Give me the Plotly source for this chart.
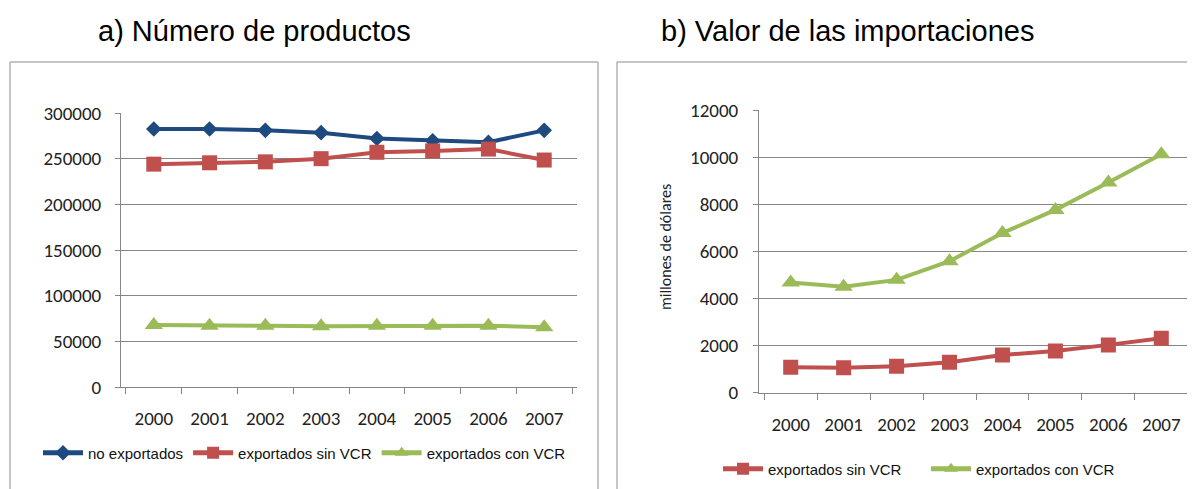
import plotly.graph_objects as go

years = ["2000", "2001", "2002", "2003", "2004", "2005", "2006", "2007"]

# a) Número de productos
no_exportados = [282500, 282500, 281000, 278500, 272000, 269500, 268000, 281000]
exp_sin_vcr_n = [244000, 245500, 246500, 250000, 257000, 258500, 260500, 248500]
exp_con_vcr_n = [68000, 67000, 67000, 66500, 67000, 67000, 67000, 65500]

# b) Valor de las importaciones (millones de dólares)
exp_sin_vcr_v = [1080, 1060, 1120, 1290, 1600, 1770, 2030, 2310]
exp_con_vcr_v = [4680, 4500, 4790, 5580, 6780, 7760, 8920, 10120]

BLUE = "#1F4A80"
RED = "#C0504D"
GREEN = "#9BBB59"
GRID = "#868686"
W, H = 1195, 489
OFF = 8  # page body margin offset


def px(x):
    return (x - OFF) / W


def py(y):
    return 1 - (y - OFF) / H


tick_font = dict(family="Carlito, Lato, sans-serif", size=19, color="#222222")
leg_font = dict(family="Liberation Sans Narrow, Arial Narrow, Liberation Sans, sans-serif", size=15, color="#111111")

fig = go.Figure()


def add(x, y, name, color, symbol, xa, ya, legend, size):
    fig.add_trace(go.Scatter(
        x=x, y=y, name=name, mode="lines+markers",
        line=dict(color=color, width=4),
        marker=dict(symbol=symbol, size=size, color=color),
        xaxis=xa, yaxis=ya, legend=legend))


add(years, no_exportados, "no exportados", BLUE, "diamond", "x", "y", "legend", 12)
add(years, exp_sin_vcr_n, "exportados sin VCR", RED, "square", "x", "y", "legend", 15)
add(years, exp_con_vcr_n, "exportados con VCR", GREEN, "triangle-up", "x", "y", "legend", 16)
add(years, exp_sin_vcr_v, "exportados sin VCR", RED, "square", "x2", "y2", "legend2", 15)
add(years, exp_con_vcr_v, "exportados con VCR", GREEN, "triangle-up", "x2", "y2", "legend2", 16)

xcommon = dict(type="category", tickson="boundaries", ticks="outside", ticklen=6,
               tickcolor=GRID, showline=True, linecolor=GRID, linewidth=1, automargin=False,
               showgrid=False, tickfont=tick_font, ticklabelstandoff=14, fixedrange=True)
ycommon = dict(showgrid=True, gridcolor=GRID, gridwidth=1, showline=True, linecolor=GRID,
               linewidth=1, ticks="outside", ticklen=5, tickcolor=GRID, zeroline=False,
               automargin=False, tickfont=tick_font, tickformat="d", fixedrange=True)

fig.update_layout(
    template="none",
    width=W, height=H,
    margin=dict(l=0, r=0, t=0, b=0, autoexpand=False),
    paper_bgcolor="white", plot_bgcolor="white",
    xaxis=dict(domain=[px(121), px(577)], anchor="y", **xcommon),
    yaxis=dict(domain=[py(387), py(113)], anchor="x", range=[0, 300000],
               dtick=50000, ticklabelstandoff=10, **ycommon),
    xaxis2=dict(domain=[px(759), px(1193)], anchor="y2", **xcommon),
    yaxis2=dict(domain=[py(392.7), py(110)], anchor="x2", range=[0, 12000],
                dtick=2000, ticklabelstandoff=11, **ycommon),
    legend=dict(orientation="h", x=px(38), y=py(453), xanchor="left", yanchor="middle",
                font=leg_font, bgcolor="rgba(0,0,0,0)", itemwidth=40, itemsizing="constant"),
    legend2=dict(orientation="h", x=px(718), y=py(469), xanchor="left", yanchor="middle",
                 font=leg_font, bgcolor="rgba(0,0,0,0)", itemwidth=40, itemsizing="constant",
                 entrywidth=153),
    showlegend=True,
)

# panel frames
fig.add_shape(type="rect", xref="paper", yref="paper", x0=px(10), x1=px(598),
              y0=-0.05, y1=py(62), line=dict(color="#8C8C8C", width=1), layer="below")
fig.add_shape(type="rect", xref="paper", yref="paper", x0=px(617), x1=1.05,
              y0=-0.05, y1=py(62), line=dict(color="#8C8C8C", width=1), layer="below")

title_font = dict(family="Liberation Sans, Arial, sans-serif", size=29, color="#000000")
fig.add_annotation(text="a) Número de productos", xref="paper", yref="paper",
                   x=px(254), y=py(31), showarrow=False, font=title_font,
                   xanchor="center", yanchor="middle")
fig.add_annotation(text="b) Valor de las importaciones", xref="paper", yref="paper",
                   x=px(848), y=py(31), showarrow=False, font=title_font,
                   xanchor="center", yanchor="middle")
fig.add_annotation(text="millones de dólares", xref="paper", yref="paper",
                   x=px(665), y=py(247), showarrow=False, textangle=-90,
                   font=dict(family="Carlito, Lato, sans-serif", size=16, color="#222222"),
                   xanchor="center", yanchor="middle")

fig.write_html("out.html")
